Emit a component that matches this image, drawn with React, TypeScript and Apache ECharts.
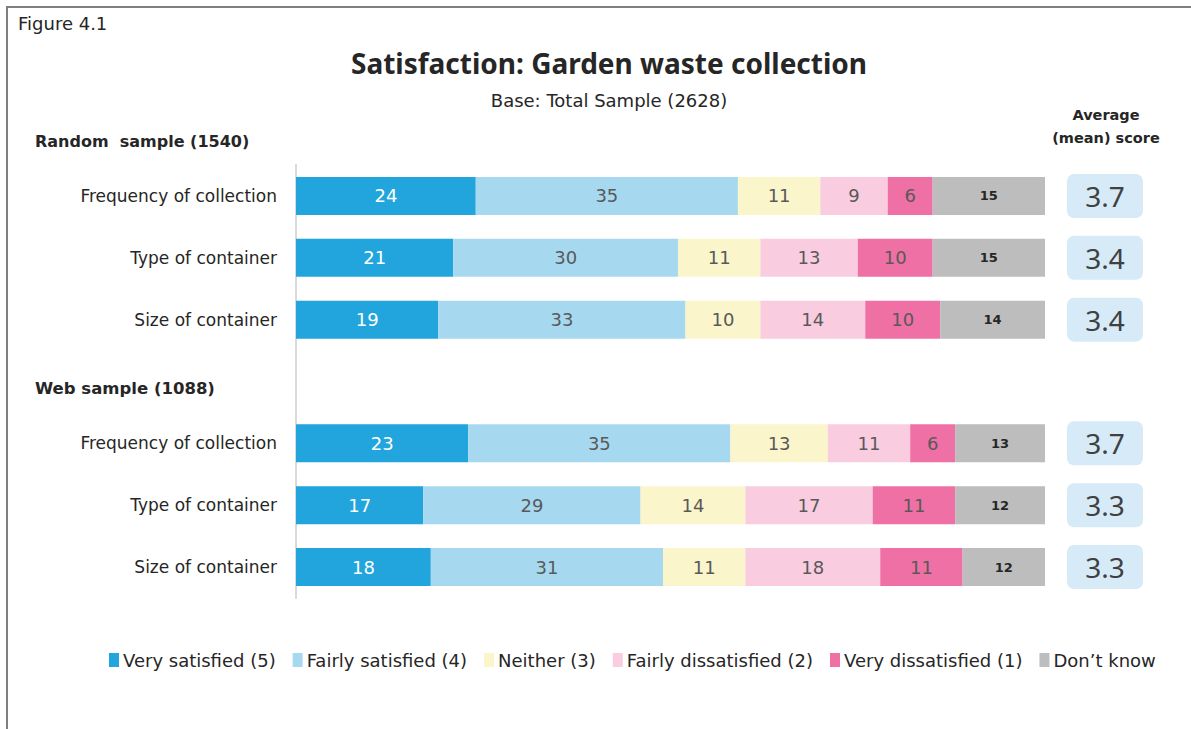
import React, { useEffect, useRef } from "react";
import * as echarts from "echarts";

const rowLabels = [
  "Frequency of collection",
  "Type of container",
  "Size of container",
  "",
  "Frequency of collection",
  "Type of container",
  "Size of container",
];

const seriesNames = [
  "Very satisfied (5)",
  "Fairly satisfied (4)",
  "Neither (3)",
  "Fairly dissatisfied (2)",
  "Very dissatisfied (1)",
  "Don\u2019t know",
];

// rows: random freq, random type, random size, (gap), web freq, web type, web size
const verySatisfied = [24, 21, 19, null, 23, 17, 18];
const fairlySatisfied = [35, 30, 33, null, 35, 29, 31];
const neither = [11, 11, 10, null, 13, 14, 11];
const fairlyDissatisfied = [9, 13, 14, null, 11, 17, 18];
const veryDissatisfied = [6, 10, 10, null, 6, 11, 11];
const dontKnow = [15, 15, 14, null, 13, 12, 12];

const meanScores = ["3.7", "3.4", "3.4", null, "3.7", "3.3", "3.3"];

const colors = ["#21A5DC", "#A6D9F0", "#FBF5CC", "#F9CCE0", "#EF70A5", "#BDBDBD"];
const labelColors = ["#FFFFFF", "#595959", "#595959", "#595959", "#595959", "#262626"];

const FONT = "'DejaVu Sans', sans-serif";
const TFONT = "'Noto Sans', sans-serif";

export default function App() {
  const ref = useRef<HTMLDivElement>(null);
  useEffect(() => {
    if (!ref.current) return;
    const chart = echarts.init(ref.current, null, { renderer: "svg" });
    const values = [verySatisfied, fairlySatisfied, neither, fairlyDissatisfied, veryDissatisfied, dontKnow];
    const barSeries = values.map((arr, i) => ({
      name: seriesNames[i],
      type: "bar",
      stack: "total",
      xAxisIndex: 0,
      yAxisIndex: 0,
      barWidth: 38,
      itemStyle: { color: colors[i] },
      label: {
        show: true,
        position: "inside",
        color: labelColors[i],
        fontFamily: FONT,
        fontSize: i === 5 ? 13 : 18,
        fontWeight: i === 5 ? "bold" : "normal",
        formatter: (p: any) => (p.value == null ? "" : String(p.value)),
      },
      data: arr.map((v) => (v == null ? "-" : v)),
    }));
    const scoreSeries = {
      name: "score",
      type: "bar",
      xAxisIndex: 1,
      yAxisIndex: 1,
      barWidth: 44,
      itemStyle: { color: "#D6EBF7", borderRadius: 7 },
      label: {
        show: true,
        position: "inside",
        color: "#404040",
        fontFamily: TFONT,
        fontSize: 28,
        formatter: (p: any) => meanScores[p.dataIndex] ?? "",
      },
      data: meanScores.map((s) => (s == null ? "-" : 1)),
    };
    chart.setOption({
      animation: false,
      backgroundColor: "#FFFFFF",
      textStyle: { fontFamily: FONT },
      title: {
        text: "Satisfaction: Garden waste collection",
        subtext: "Base: Total Sample (2628)",
        left: 604,
        textAlign: "center",
        top: 44,
        itemGap: 14,
        textStyle: { fontSize: 28, fontWeight: "bold", color: "#262626", fontFamily: TFONT },
        subtextStyle: { fontSize: 18, color: "#262626", fontFamily: FONT },
      },
      legend: {
        data: seriesNames,
        bottom: 55,
        left: 104,
        itemWidth: 10,
        itemHeight: 14,
        itemGap: 17,
        icon: "rect",
        textStyle: { fontSize: 18, color: "#262626", fontFamily: FONT, padding: [0, 0, 0, -1] },
      },
      grid: [
        { left: 296, right: 146, top: 165, bottom: 131 },
        { left: 1067, width: 76, top: 165, bottom: 131 },
      ],
      xAxis: [
        { type: "value", gridIndex: 0, min: 0, max: 100, show: false },
        { type: "value", gridIndex: 1, min: 0, max: 1, show: false },
      ],
      yAxis: [
        {
          type: "category",
          gridIndex: 0,
          inverse: true,
          data: rowLabels,
          axisLine: { show: true, lineStyle: { color: "#D9D9D9", width: 2 } },
          axisTick: { show: false },
          axisLabel: { color: "#262626", fontSize: 17, fontFamily: FONT, margin: 19 },
        },
        {
          type: "category",
          gridIndex: 1,
          inverse: true,
          data: rowLabels,
          show: false,
        },
      ],
      graphic: [
        {
          type: "rect",
          shape: { x: 7, y: 7, width: 1300, height: 900 },
          style: { fill: "none", stroke: "#7F7F7F", lineWidth: 2 },
          silent: true,
        },
        {
          type: "text",
          left: 18,
          top: 14,
          style: { text: "Figure 4.1", fontSize: 18, fill: "#262626", fontFamily: FONT },
        },
        {
          type: "text",
          left: 35,
          top: 133,
          style: { text: "Random  sample (1540)", fontSize: 16, fontWeight: "bold", fill: "#262626", fontFamily: FONT },
        },
        {
          type: "text",
          left: 35,
          top: 380,
          style: { text: "Web sample (1088)", fontSize: 16.5, fontWeight: "bold", fill: "#262626", fontFamily: FONT },
        },
        {
          type: "text",
          x: 1106,
          y: 103,
          style: {
            text: "Average\n(mean) score",
            fontSize: 14.5,
            fontWeight: "bold",
            fill: "#262626",
            fontFamily: FONT,
            align: "center",
            lineHeight: 23,
          },
        },
      ],
      series: [...barSeries, scoreSeries],
    });
    return () => chart.dispose();
  }, []);
  return (
    <div
      ref={ref}
      style={{ position: "fixed", left: 0, top: 0, width: 1191, height: 729 }}
    />
  );
}
